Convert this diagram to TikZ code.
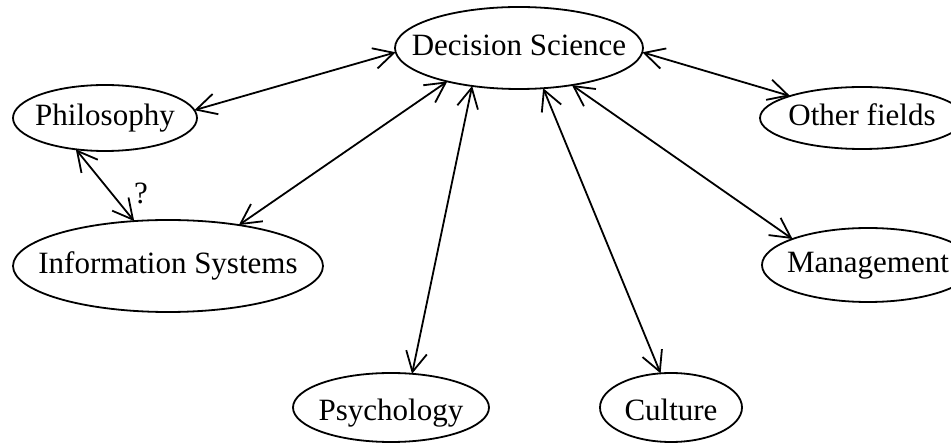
\documentclass[tikz,border=0pt]{standalone}
\usepackage{fontspec}
\setmainfont{Liberation Serif}
\usetikzlibrary{arrows.meta,shapes.geometric}
\begin{document}
\begin{tikzpicture}[x=1pt,y=-1pt,
  ell/.style={draw, ellipse, line width=1.8pt, inner sep=0pt, outer sep=0pt},
  txt/.style={font=\fontsize{31}{36}\selectfont, inner sep=0pt, text height=22pt, text depth=7pt},
  link/.style={line width=1.8pt, {Straight Barb[length=20pt,width=21pt]}-{Straight Barb[length=20pt,width=21pt]}}]
\clip (0,0) rectangle (951,443);
% ellipses
\node[ell, minimum width=248pt, minimum height=82pt] (ds) at (519,48) {};
\node[ell, minimum width=184pt, minimum height=66pt] (ph) at (105,118) {};
\node[ell, minimum width=204pt, minimum height=62pt] (of) at (862,118) {};
\node[ell, minimum width=310pt, minimum height=92pt] (is) at (168,266) {};
\node[ell, minimum width=212pt, minimum height=74pt] (mg) at (868,265) {};
\node[ell, minimum width=196pt, minimum height=69pt] (ps) at (391,407.5) {};
\node[ell, minimum width=142pt, minimum height=69pt] (cu) at (671,407.5) {};
% texts
\node[txt] (dst) at (ds.center) {Decision Science};
\node[txt] (pht) at (ph.center) {Philosophy};
\node[txt] (oft) at (of.center) {Other fields};
\node[txt] (ist) at (is.center) {Information Systems};
\node[txt] (mgt) at (mg.center) {Management};
\node[txt] (pst) at (391,413) {Psychology};
\node[txt] (cut) at (671,413) {Culture};
% connectors
\draw[link] (ds.182.3) -- (ph.5.4);
\draw[link] (ds.358.1) -- (of.163.1);
\draw[link] (ds.205.5) -- (is.30.9);
\draw[link] (ds.219.2) -- (ps.58.6);
\draw[link] (ds.301) -- (cu.107.4);
\draw[link] (ds.325.7) -- (mg.161.4);
\draw[link] (ph.227) -- (is.127.3);
\node[txt] (q) at (141,196) {?};
\end{tikzpicture}
\end{document}
